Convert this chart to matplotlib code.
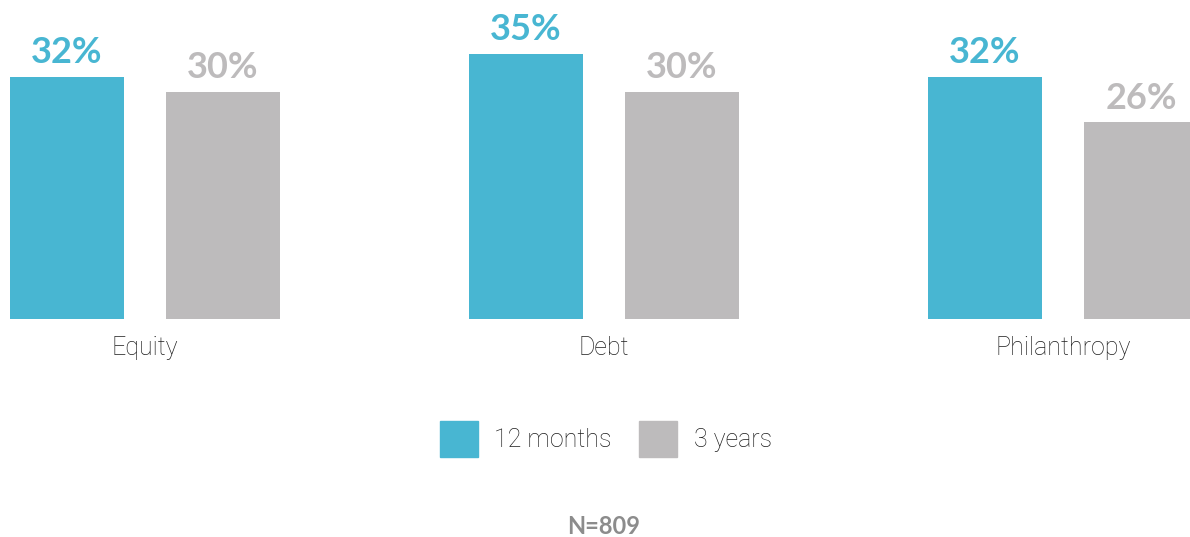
import numpy as np
import matplotlib
matplotlib.use("Agg")
import matplotlib.pyplot as plt
from matplotlib.patches import Patch

categories = ["Equity", "Debt", "Philanthropy"]
months_12 = [32, 35, 32]
years_3 = [30, 30, 26]
series_names = ["12 months", "3 years"]

BLUE = "#48b6d2"
GREY = "#bdbbbc"
LABEL_FONT = {"family": ["Roboto", "DejaVu Sans"], "weight": "light", "size": 18}


def main():
    plt.rcParams["font.family"] = ["Lato", "DejaVu Sans"]
    fig = plt.figure(figsize=(11.9, 5.37), dpi=100)
    # one x unit = distance between group centres
    ax = fig.add_axes([0, 0.406, 1, 0.5639])
    x = np.arange(len(categories))
    width = 0.2484
    off = 0.17

    ax.bar(x - off, months_12, width, color=BLUE)
    ax.bar(x + off, years_3, width, color=GREY)

    for xi, v in zip(x, months_12):
        ax.text(xi - off, v + 1.0, f"{v}%", ha="center", va="bottom",
                fontsize=26, fontweight="bold", color=BLUE)
    for xi, v in zip(x, years_3):
        ax.text(xi + off, v + 1.0, f"{v}%", ha="center", va="bottom",
                fontsize=26, fontweight="bold", color=GREY)

    ax.set_xlim(-145 / 459, 1045 / 459)
    ax.set_ylim(0, 40)
    ax.set_xticks(x)
    ax.set_xticklabels(categories, fontdict=LABEL_FONT, color="#1e1e1e")
    ax.tick_params(axis="x", length=0, pad=12)
    ax.set_yticks([])
    for s in ax.spines.values():
        s.set_visible(False)

    handles = [Patch(color=BLUE), Patch(color=GREY)]
    leg = fig.legend(handles, series_names, loc="center", bbox_to_anchor=(606 / 1190, 1 - 439 / 537),
                     ncol=2, frameon=False, prop=LABEL_FONT,
                     handlelength=1.52, handleheight=1.78, handletextpad=0.65, columnspacing=1.1)
    for t in leg.get_texts():
        t.set_color("#1e1e1e")

    fig.text(604 / 1190, 1 - 527 / 537, "N=809", ha="center", va="center",
             fontsize=17, fontweight="bold", color="#8c8c8c")

    fig.savefig("out.png", dpi=100)


if __name__ == '__main__':
    main()
